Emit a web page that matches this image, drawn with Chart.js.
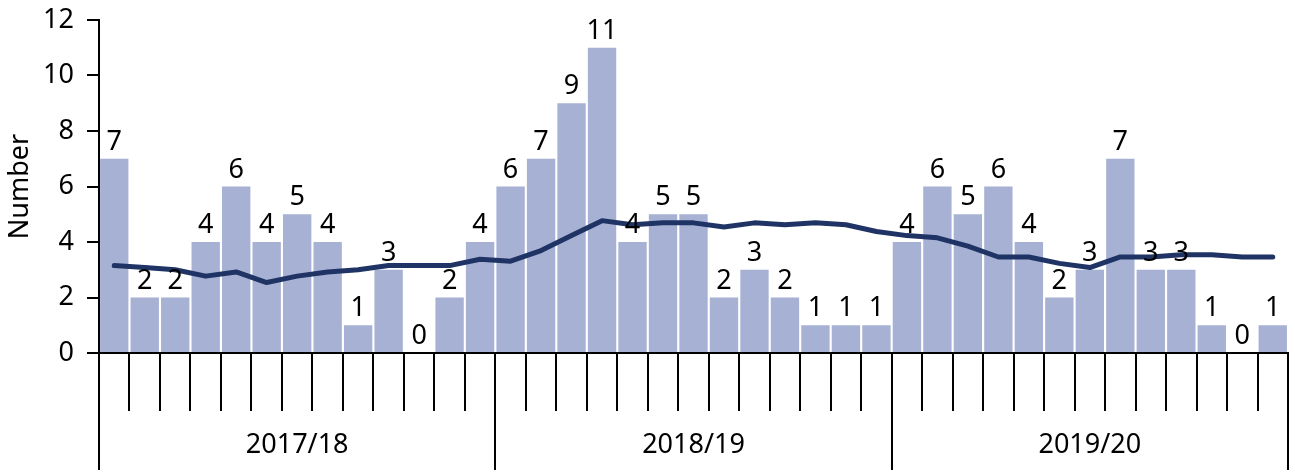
<!DOCTYPE html>
<html>
<head>
<meta charset="utf-8">
<script src="https://cdn.jsdelivr.net/npm/chart.js@4/dist/chart.umd.min.js"></script>
<style>
  html, body { margin: 0; padding: 0; background: #fff; }
</style>
</head>
<body>
<canvas id="chart" width="1295" height="472"></canvas>
<script>
// --- data ---
const years = ['2017/18', '2018/19', '2019/20'];
const periodsPerYear = 13;
const counts = [7, 2, 2, 4, 6, 4, 5, 4, 1, 3, 0, 2, 4,
                6, 7, 9, 11, 4, 5, 5, 2, 3, 2, 1, 1, 1,
                4, 6, 5, 6, 4, 2, 3, 7, 3, 3, 1, 0, 1];
// rolling average line
const rollingAvg = [3.15, 3.08, 3.00, 2.77, 2.92, 2.54, 2.77, 2.92, 3.00, 3.15, 3.15, 3.15, 3.38,
                    3.31, 3.69, 4.23, 4.77, 4.62, 4.69, 4.69, 4.54, 4.69, 4.62, 4.69, 4.62, 4.38,
                    4.23, 4.15, 3.85, 3.46, 3.46, 3.23, 3.08, 3.46, 3.46, 3.54, 3.54, 3.46, 3.46];
const yTicks = [0, 2, 4, 6, 8, 10, 12];

const periodLabels = years.flatMap(y => Array.from({ length: periodsPerYear }, (_, i) => y + ' P' + (i + 1)));

const FONT = '"Noto Sans", "Open Sans", sans-serif';
const FONT_SIZE = 27;
const BAR_COLOR = '#a7b1d4';
const LINE_COLOR = '#1f3465';

// value labels above the bars
const barLabels = {
    id: 'barLabels',
    afterDatasetsDraw(chart) {
        const ctx = chart.ctx;
        const meta = chart.getDatasetMeta(0);
        ctx.save();
        ctx.font = FONT_SIZE + 'px ' + FONT;
        ctx.fillStyle = '#000';
        ctx.textAlign = 'center';
        ctx.textBaseline = 'alphabetic';
        meta.data.forEach((bar, i) => {
            ctx.fillText(String(counts[i]), bar.x, bar.y - 9);
        });
        ctx.restore();
    }
};

// period ticks + year groups under the x axis
const xGroups = {
    id: 'xGroups',
    afterDraw(chart) {
        const ctx = chart.ctx;
        const x = chart.scales.x;
        const step = x.getPixelForValue(1) - x.getPixelForValue(0);
        const edge = i => x.getPixelForValue(0) - step / 2 + i * step;
        ctx.save();
        ctx.strokeStyle = '#000';
        ctx.lineWidth = 2;
        for (let i = 0; i <= counts.length; i++) {
            const px = Math.round(edge(i));
            const isYear = i % periodsPerYear === 0;
            ctx.beginPath();
            ctx.moveTo(px, x.top);
            ctx.lineTo(px, isYear ? x.bottom - 2 : x.top + 58);
            ctx.stroke();
        }
        ctx.font = FONT_SIZE + 'px ' + FONT;
        ctx.fillStyle = '#000';
        ctx.textAlign = 'center';
        ctx.textBaseline = 'middle';
        years.forEach((y, k) => {
            const cx = (edge(k * periodsPerYear) + edge((k + 1) * periodsPerYear)) / 2;
            ctx.fillText(y, cx, x.top + 92);
        });
        ctx.restore();
    }
};

new Chart(document.getElementById('chart'), {
    data: {
        labels: periodLabels,
        datasets: [
            {
                type: 'bar',
                data: counts,
                backgroundColor: BAR_COLOR,
                barPercentage: 0.93,
                categoryPercentage: 1,
                order: 1
            },
            {
                type: 'line',
                data: rollingAvg,
                borderColor: LINE_COLOR,
                borderWidth: 5,
                pointRadius: 0,
                tension: 0,
                borderCapStyle: 'round',
                borderJoinStyle: 'round',
                order: 0
            }
        ]
    },
    options: {
        responsive: false,
        animation: false,
        layout: { padding: { top: 20, right: 7, left: 0, bottom: 0 } },
        plugins: { legend: { display: false }, tooltip: { enabled: false } },
        scales: {
            x: {
                offset: true,
                ticks: { display: false },
                grid: { display: false },
                border: { display: true, color: '#000', width: 2 },
                afterFit: s => { s.height = 119; }
            },
            y: {
                min: 0,
                max: 12,
                afterBuildTicks: s => { s.ticks = yTicks.map(v => ({ value: v })); },
                ticks: { color: '#000', font: { family: FONT, size: FONT_SIZE }, padding: 13 },
                grid: { drawOnChartArea: false, drawTicks: true, tickLength: 12, color: '#000', lineWidth: 2 },
                border: { display: true, color: '#000', width: 2 },
                title: { display: true, text: 'Number', color: '#000', font: { family: FONT, size: FONT_SIZE }, padding: { top: 4, bottom: 0 } },
                afterFit: s => { s.width = 99; s.paddingTop = 0; s.paddingBottom = 0; }
            }
        }
    },
    plugins: [barLabels, xGroups]
});
</script>
</body>
</html>
